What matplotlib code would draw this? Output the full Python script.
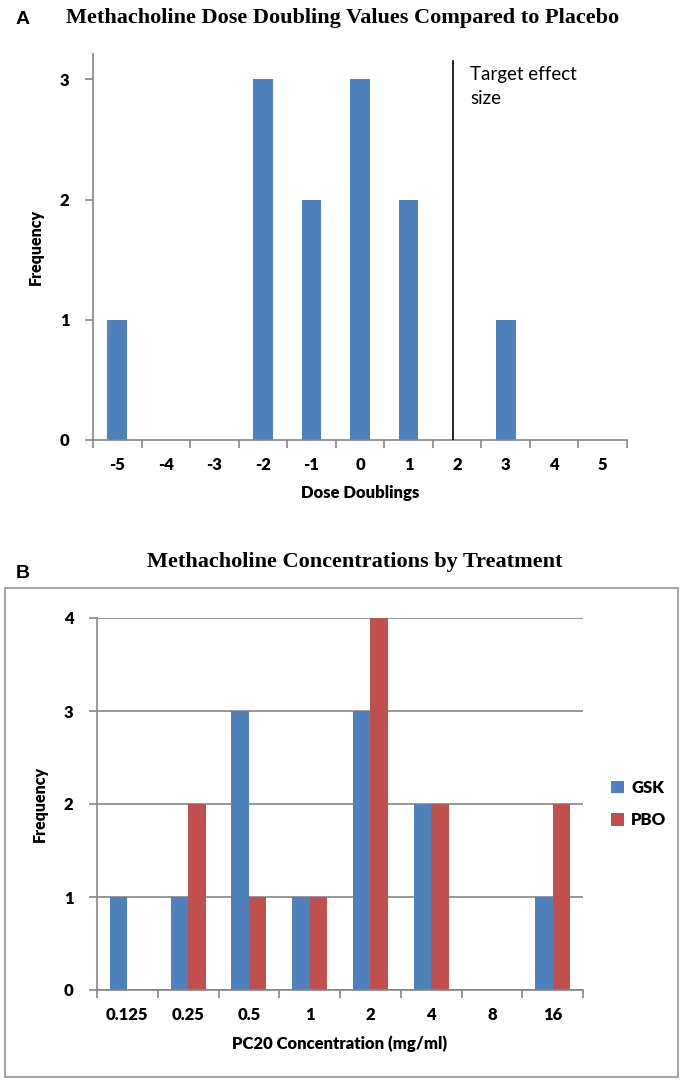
import matplotlib
matplotlib.use("Agg")
import matplotlib.pyplot as plt
import numpy as np
from matplotlib.patches import Rectangle

# ---- data ----
doublings = ["-5", "-4", "-3", "-2", "-1", "0", "1", "2", "3", "4", "5"]
doubling_freq = [1, 0, 0, 3, 2, 3, 2, 0, 1, 0, 0]
target_effect = "2"

concentrations = ["0.125", "0.25", "0.5", "1", "2", "4", "8", "16"]
gsk_freq = [1, 1, 3, 1, 3, 2, 0, 1]
pbo_freq = [0, 2, 1, 1, 4, 2, 0, 2]

BLUE = "#4F81BD"
RED = "#C0504D"
AXC = "#868686"
W, H = 686, 1082

fig = plt.figure(figsize=(W / 100, H / 100), dpi=100)
fig.patch.set_facecolor("white")

def fx(px):
    return px / W

def fy(py):
    return 1 - py / H

SANS = ["Lato", "DejaVu Sans"]
SERIF = ["Liberation Serif", "DejaVu Serif"]

def style_axes(ax, n):
    for s in ["top", "right"]:
        ax.spines[s].set_visible(False)
    for s in ["left", "bottom"]:
        ax.spines[s].set_color(AXC)
        ax.spines[s].set_linewidth(1.2)
    ax.set_xlim(-0.5, n - 0.5)
    ax.set_xticks(np.arange(n))
    ax.set_xticks(np.arange(n + 1) - 0.5, minor=True)
    ax.tick_params(axis="x", which="major", length=0, pad=12)
    ax.tick_params(axis="x", which="minor", length=6, color=AXC, width=1.2, direction="out")
    ax.tick_params(axis="y", length=6, color=AXC, width=1.2, direction="out", pad=11)
    for lab in ax.get_xticklabels() + ax.get_yticklabels():
        lab.set_fontfamily(SANS)
        lab.set_fontweight("heavy")
        lab.set_fontsize(12)

# ---- Panel A ----
axA = fig.add_axes([fx(93), fy(440), fx(627) - fx(93), fy(54) - fy(440)])
xa = np.arange(len(doublings))
axA.bar(xa, doubling_freq, width=0.41, color=BLUE, zorder=2)
axA.set_ylim(0, 3.21)
axA.set_yticks([0, 1, 2, 3])
axA.set_xticks(xa)
axA.set_xticklabels(doublings)
style_axes(axA, len(doublings))
tx = doublings.index(target_effect)
axA.plot([tx - 0.08, tx - 0.08], [0, 3.15], color="black", lw=1.2, zorder=3)
axA.text(tx + 0.27, 3.11, "Target effect\nsize", fontfamily=SANS, fontsize=13.5,
         va="top", ha="left", linespacing=1.5)
axA.set_xlabel("Dose Doublings", fontfamily=SANS, fontweight="heavy", fontsize=12, labelpad=9)
axA.set_ylabel("Frequency", fontfamily=SANS, fontweight="heavy", fontsize=11.5, labelpad=11)

fig.text(fx(343), fy(18), "Methacholine Dose Doubling Values Compared to Placebo",
         fontfamily=SERIF, fontweight="bold", fontsize=16, ha="center", va="center")
fig.text(fx(16), fy(20), "A", fontfamily=["Liberation Sans", "DejaVu Sans"],
         fontweight="bold", fontsize=14, ha="left", va="center")

# ---- Panel B ----
fig.patches.append(Rectangle((fx(5), fy(1077)), fx(678) - fx(5), fy(588) - fy(1077),
                             transform=fig.transFigure, fill=False, edgecolor="#A6A6A6",
                             linewidth=1.5, zorder=0))
fig.text(fx(355), fy(562), "Methacholine Concentrations by Treatment",
         fontfamily=SERIF, fontweight="bold", fontsize=16, ha="center", va="center")
fig.text(fx(16), fy(573), "B", fontfamily=["Liberation Sans", "DejaVu Sans"],
         fontweight="bold", fontsize=14, ha="left", va="center")

axB = fig.add_axes([fx(97), fy(990), fx(583) - fx(97), fy(618) - fy(990)])
xb = np.arange(len(concentrations))
bw = 0.29
axB.bar(xb - bw / 2, gsk_freq, width=bw, color=BLUE, label="GSK", zorder=2)
axB.bar(xb + bw / 2, pbo_freq, width=bw, color=RED, label="PBO", zorder=2)
axB.set_ylim(0, 4)
axB.set_yticks([0, 1, 2, 3, 4])
axB.set_xticks(xb)
axB.set_xticklabels(concentrations)
style_axes(axB, len(concentrations))
axB.yaxis.grid(True, color=AXC, linewidth=1.2, zorder=0)
axB.set_axisbelow(True)
axB.set_xlabel("PC20 Concentration (mg/ml)", fontfamily=SANS, fontweight="heavy",
               fontsize=12, labelpad=9)
axB.set_ylabel("Frequency", fontfamily=SANS, fontweight="heavy", fontsize=11.5, labelpad=11)
leg = axB.legend(loc="center left", bbox_to_anchor=((596 - 97) / (583 - 97), 0.5),
                 frameon=False, prop={"family": SANS, "weight": "heavy", "size": 12},
                 handlelength=0.8, handleheight=0.8, handletextpad=0.4, labelspacing=1.0)

fig.savefig("out.png", dpi=100, facecolor="white")
